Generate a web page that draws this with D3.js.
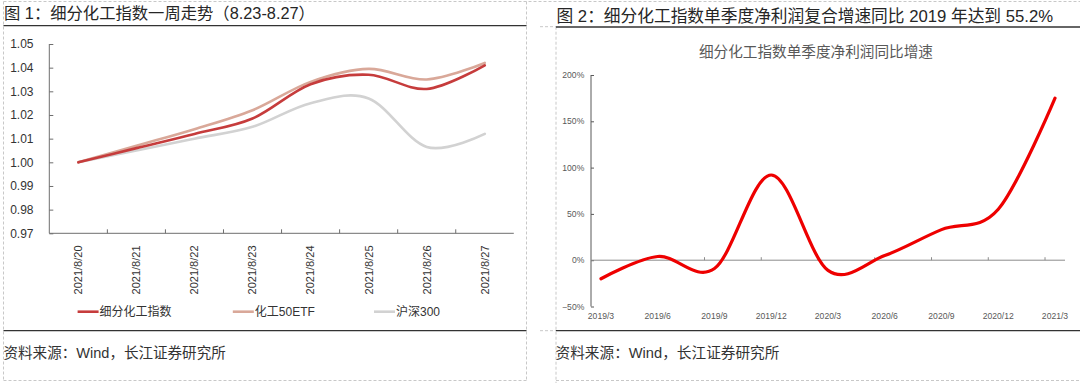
<!DOCTYPE html>
<html><head><meta charset="utf-8">
<script src="https://cdn.jsdelivr.net/npm/d3@7"></script>
<style>
html,body{margin:0;padding:0;background:#fff;}
svg{display:block;font-family:"Liberation Sans","Noto Sans CJK SC",sans-serif;}
</style></head>
<body>
<svg id="c" width="1080" height="383"></svg>
<script>
// ---------- data ----------
const leftTitle = "图 1：细分化工指数一周走势（8.23-8.27）";
const rightTitle = "图 2：细分化工指数单季度净利润复合增速同比 2019 年达到 55.2%";
const rightInnerTitle = "细分化工指数单季度净利润同比增速";
const sourceText = "资料来源：Wind，长江证券研究所";

const leftDates = ["2021/8/20","2021/8/21","2021/8/22","2021/8/23","2021/8/24","2021/8/25","2021/8/26","2021/8/27"];
const seriesNames = ["细分化工指数","化工50ETF","沪深300"];
const seriesFine  = [1.000,1.006,1.012,1.0185,1.033,1.037,1.031,1.041];
const seriesETF   = [1.000,1.007,1.014,1.022,1.034,1.0395,1.035,1.042];
const seriesHS300 = [1.000,1.005,1.010,1.015,1.025,1.027,1.0065,1.012];
const leftYTicks = [0.97,0.98,0.99,1.00,1.01,1.02,1.03,1.04,1.05];

const rightQuarters = ["2019/3","2019/6","2019/9","2019/12","2020/3","2020/6","2020/9","2020/12","2021/3"];
const profitGrowth = [-0.20,0.04,-0.09,0.92,-0.11,0.05,0.33,0.55,1.75];
const rightYTicks = [-0.5,0,0.5,1.0,1.5,2.0];

// ---------- helpers ----------
const svg = d3.select("#c");
function fitText(sel, target){
  const w = sel.node().getComputedTextLength();
  const fs = parseFloat(sel.attr("font-size"));
  sel.attr("font-size", (fs*target/w).toFixed(2));
}
function dashed(x1,y1,x2,y2){
  svg.append("line").attr("x1",x1).attr("y1",y1).attr("x2",x2).attr("y2",y2)
    .attr("stroke","#c8c8c8").attr("stroke-width",1).attr("stroke-dasharray","3,2");
}
function rule(x1,y,x2){
  svg.append("line").attr("x1",x1).attr("y1",y).attr("x2",x2).attr("y2",y)
    .attr("stroke","#333").attr("stroke-width",1.3);
}

// panel frames
dashed(3.5,1.5,1080,1.5);
dashed(3.5,1.5,3.5,380);
dashed(526.5,1.5,526.5,380);
dashed(3.5,380.5,526.5,380.5);
dashed(540,26.7,556,26.7);
dashed(556,26.7,556,383);
dashed(540,330.7,556,330.7);
dashed(556,380.5,1080,380.5);

// ---------- LEFT PANEL ----------
const lt = svg.append("text").attr("x",4).attr("y",13).attr("dy","0.35em")
  .attr("font-size",16).attr("fill","#262626").text(leftTitle);
fitText(lt, 311);
rule(3.5,25.7,526.5);

const xL = d3.scaleBand().domain(leftDates).range([49.3,513.8]);
const yL = d3.scaleLinear().domain([0.97,1.05]).range([233.3,44]);

const gL = svg.append("g");
// y axis
const yAxL = d3.axisRight(yL).tickValues(leftYTicks).tickSize(4).tickFormat("");
gL.append("g").attr("transform","translate(49.3,0)").call(yAxL)
  .call(g=>{g.select(".domain").attr("stroke","#6e6e6e").attr("d","M0,44V233.3");g.selectAll(".tick line").attr("stroke","#6e6e6e");});
gL.selectAll(".ylab").data(leftYTicks).join("text")
  .attr("x",33.5).attr("y",d=>yL(d)).attr("dy","0.35em").attr("text-anchor","end")
  .attr("font-size",12).attr("fill","#333").text(d=>d3.format(".2f")(d));
// x axis
gL.append("line").attr("x1",49.3).attr("x2",513.8).attr("y1",233.3).attr("y2",233.3).attr("stroke","#6e6e6e");
gL.selectAll(".xt").data(leftDates.slice(1)).join("line")
  .attr("x1",d=>xL(d)).attr("x2",d=>xL(d)).attr("y1",233.3).attr("y2",229.3).attr("stroke","#6e6e6e");
gL.selectAll(".xlab").data(leftDates).join("text")
  .attr("transform",d=>`translate(${xL(d)+xL.bandwidth()/2},245.5) rotate(-90)`)
  .attr("dy","0.35em").attr("text-anchor","end").attr("font-size",11).attr("fill","#333").text(d=>d);

const leftSeries = [
  {name:seriesNames[0], values:seriesFine, color:"#c63c3c"},
  {name:seriesNames[1], values:seriesETF, color:"#d9a899"},
  {name:seriesNames[2], values:seriesHS300, color:"#d2d2d2"}
];
const lineL = d3.line().x((d,i)=>xL(leftDates[i])+xL.bandwidth()/2).y(d=>yL(d)).curve(d3.curveCardinal.tension(0));
[2,1,0].forEach(k=>{
  gL.append("path").attr("d",lineL(leftSeries[k].values)).attr("fill","none")
    .attr("stroke",leftSeries[k].color).attr("stroke-width",2.6).attr("stroke-linecap","round");
});
// legend
const legX = [77.6,232.8,374];
leftSeries.forEach((s,i)=>{
  gL.append("line").attr("x1",legX[i]).attr("x2",legX[i]+21).attr("y1",311.7).attr("y2",311.7)
    .attr("stroke",s.color).attr("stroke-width",2.6);
  gL.append("text").attr("x",legX[i]+22).attr("y",311.7).attr("dy","0.35em")
    .attr("font-size",12).attr("fill","#333").text(s.name);
});
rule(3.5,330.7,526.5);
const ls = svg.append("text").attr("x",3.5).attr("y",353.3).attr("dy","0.35em")
  .attr("font-size",14.5).attr("fill","#333").text(sourceText);
fitText(ls, 222.5);

// ---------- RIGHT PANEL ----------
const rt = svg.append("text").attr("x",556.5).attr("y",15.7).attr("dy","0.35em")
  .attr("font-size",16).attr("fill","#262626").text(rightTitle);
fitText(rt, 497);
rule(556,27,1080);

const it = svg.append("text").attr("x",815.9).attr("y",51.7).attr("dy","0.35em").attr("text-anchor","middle")
  .attr("font-size",14.5).attr("fill","#595959").text(rightInnerTitle);
fitText(it, 234);

const xR = d3.scalePoint().domain(rightQuarters).range([591,1065]).padding(0.176);
const yR = d3.scaleLinear().domain([-0.5,2.0]).range([306.5,75]);
const gR = svg.append("g");
const yAxR = d3.axisRight(yR).tickValues(rightYTicks).tickSize(3).tickFormat("");
gR.append("g").attr("transform","translate(591,0)").call(yAxR)
  .call(g=>{g.select(".domain").attr("stroke","#595959").attr("d","M0,75V306.5");g.selectAll(".tick line").attr("stroke","#595959");});
gR.selectAll(".ylab").data(rightYTicks).join("text")
  .attr("x",584.3).attr("y",d=>yR(d)).attr("dy","0.35em").attr("text-anchor","end")
  .attr("font-size",8.6).attr("fill","#595959").text(d=>d3.format(".0%")(d));
gR.append("line").attr("x1",591).attr("x2",1065).attr("y1",yR(0)).attr("y2",yR(0)).attr("stroke","#8c8c8c");
const stepR = xR.step();
gR.selectAll(".xt").data(rightQuarters.slice(1)).join("line")
  .attr("x1",(d,i)=>591+(i+1)*stepR).attr("x2",(d,i)=>591+(i+1)*stepR)
  .attr("y1",yR(0)).attr("y2",yR(0)-3).attr("stroke","#8c8c8c");
gR.selectAll(".xlab").data(rightQuarters).join("text")
  .attr("x",d=>xR(d)).attr("y",316).attr("dy","0.35em").attr("text-anchor","middle")
  .attr("font-size",8.6).attr("fill","#595959").text(d=>d);
const lineR = d3.line().x((d,i)=>xR(rightQuarters[i])).y(d=>yR(d)).curve(d3.curveCardinal.tension(0));
gR.append("path").attr("d",lineR(profitGrowth)).attr("fill","none")
  .attr("stroke","#ee0000").attr("stroke-width",3.2).attr("stroke-linecap","round");

rule(556,330.7,1080);
const rs = svg.append("text").attr("x",555.5).attr("y",353.3).attr("dy","0.35em")
  .attr("font-size",14.5).attr("fill","#333").text(sourceText);
fitText(rs, 224);
</script>
</body></html>
